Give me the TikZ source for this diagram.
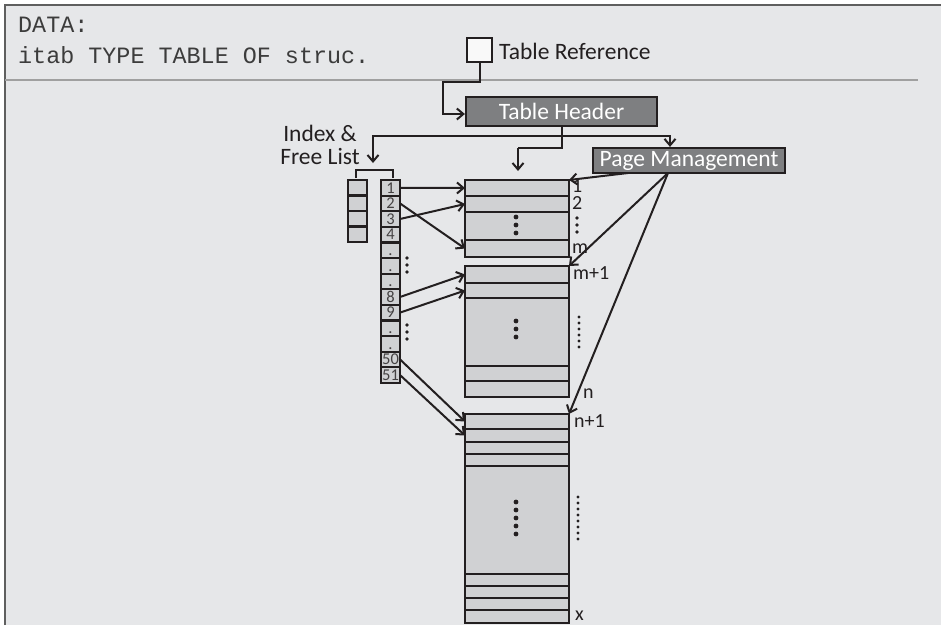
\documentclass[tikz,border=0pt]{standalone}
\usepackage{fontspec}
\setmainfont{Carlito}
\setmonofont{Liberation Mono}
\usetikzlibrary{arrows.meta,calc}
\definecolor{ink}{RGB}{35,31,32}
\definecolor{bg}{RGB}{230,231,233}
\definecolor{cellfill}{RGB}{208,209,211}
\definecolor{darkfill}{RGB}{126,127,129}
\definecolor{framecol}{RGB}{95,95,95}
\definecolor{sepcol}{RGB}{160,160,160}
\definecolor{codecol}{RGB}{60,60,60}
\newcommand{\lblfont}{\fontsize{23.5}{23.5}\selectfont}
\newcommand{\rowfont}{\fontsize{20}{20}\selectfont}
\begin{document}
\begin{tikzpicture}[x=1pt,y=-1pt,
  tip/.tip={Straight Barb[length=6.5pt,width=11pt]},
  line/.style={draw=ink,line width=2pt},
  conn/.style={line,-tip},
  cell/.style={draw=ink,fill=cellfill,line width=2.5pt,anchor=north west,
    minimum width=104pt,inner sep=0pt,outer sep=0pt},
  ibox/.style={draw=ink,fill=cellfill,line width=2.2pt,anchor=north west,
    minimum width=19pt,minimum height=15.6pt,inner sep=0pt,outer sep=0pt,
    font=\fontsize{16.5}{16.5}\selectfont,text height=10.5pt,text depth=0pt,text=ink!85},
  darkbox/.style={draw=ink,fill=darkfill,line width=2.2pt,inner sep=0pt,
    text=white,font=\lblfont},
  rowlbl/.style={anchor=base west,inner sep=0pt,font=\rowfont,text=ink},
  bigdot/.style={fill=ink},
]
\useasboundingbox (0,0) rectangle (941,625);
% background and frame
\fill[white] (0,0) rectangle (941,625);
\fill[bg] (5,5) rectangle (941,625);
\draw[framecol,line width=1.8pt] (5,625) -- (5,5) -- (941,5);
\draw[sepcol,line width=1.6pt] (5,80) -- (918,80);

% code text
\node[anchor=base west,inner sep=0pt,font=\ttfamily\fontsize{23.4}{23.4}\selectfont,text=codecol] (data) at (18,32) {DATA:};
\node[anchor=base west,inner sep=0pt,font=\ttfamily\fontsize{23.4}{23.4}\selectfont,text=codecol] (itab) at (18,63) {itab TYPE TABLE OF struc.};

% table reference
\node[draw=ink,fill=white!95!gray,line width=2.2pt,minimum width=25pt,minimum height=24pt,inner sep=0pt] (tref) at (479.5,50) {};
\node[anchor=base west,inner sep=0pt,font=\lblfont,text=ink] (treft) at (499,59) {Table Reference};

% table header & page management
\node[darkbox,minimum width=191pt,minimum height=29pt] (th) at (561.5,111.5) {Table Header};
\node[darkbox,minimum width=192pt,minimum height=25pt] (pm) at (689,160.5) {Page Management};

\draw[conn] (tref.south) |- (443,82) |- ($(th.west)+(0,2.5)$);

% header connectors
\coordinate (bl) at (373,136);
\coordinate (br) at (670,136);
\coordinate (idxtip) at (373,163);
\coordinate (j1) at (561.5,148);
\coordinate (j2) at (518,148);
\coordinate (p1tip) at (518,171);
\draw[line,tip-tip] (idxtip) -- (bl) -- (br) -- (br |- pm.north);
\draw[line] (th.south) -- (j1) -- (j2);
\draw[conn] (j2) -- (p1tip);

% index & free list label and brace
\node[align=center,inner sep=0pt,font=\lblfont,text=ink] (ifl) at (320,145) {Index \&\\Free List};
\draw[line] (356,178) -- (356,170) -- (393,170) -- (393,178);

% free list column
\foreach \i in {0,1,2,3}
  \node[ibox] (f\i) at (348,{180+15.5*\i}) {};

% index column
\foreach \lab [count=\i from 0] in {1,2,3,4,.,.,.,8,9,.,.,50,51}
  \node[ibox] (i\i) at (381,{180+15.6*\i}) {\lab};

% index dots
\foreach \y in {258,265,272,325,332,339}
  \fill[bigdot] (407,\y) circle (1.8pt);

% page 1
\node[cell,minimum height=16pt] (p1a) at (465,180) {};
\node[cell,minimum height=16pt] (p1b) at (465,196) {};
\node[cell,minimum height=28pt] (p1c) at (465,212) {};
\node[cell,minimum height=17pt] (p1d) at (465,240) {};
% page 2
\node[cell,minimum height=17pt] (p2a) at (465,266) {};
\node[cell,minimum height=15pt] (p2b) at (465,283) {};
\node[cell,minimum height=68pt] (p2c) at (465,298) {};
\node[cell,minimum height=15pt] (p2d) at (465,366) {};
\node[cell,minimum height=16pt] (p2e) at (465,381) {};
% page 3
\node[cell,minimum height=15pt] (p3a) at (465,414) {};
\node[cell,minimum height=13pt] (p3b) at (465,429) {};
\node[cell,minimum height=12pt] (p3c) at (465,442) {};
\node[cell,minimum height=12pt] (p3d) at (465,454) {};
\node[cell,minimum height=108pt] (p3e) at (465,466) {};
\node[cell,minimum height=12pt] (p3f) at (465,574) {};
\node[cell,minimum height=12pt] (p3g) at (465,586) {};
\node[cell,minimum height=12pt] (p3h) at (465,598) {};
\node[cell,minimum height=13pt] (p3i) at (465,610) {};

% centre dots
\foreach \y in {217,225,233} \fill[bigdot] (516,\y) circle (2.4pt);
\foreach \y in {321,329,337} \fill[bigdot] (516,\y) circle (2.4pt);
\foreach \y in {502,510,518,526,534} \fill[bigdot] (516,\y) circle (2.4pt);

% right labels
\node[rowlbl] (l1) at (572,192) {1};
\node[rowlbl] (l2) at (572,209) {2};
\foreach \y in {218,225,232} \fill[bigdot] (577,\y) circle (1.9pt);
\node[rowlbl] (lm) at (572,253) {m};
\node[rowlbl] (lm1) at (573,279) {m+1};
\foreach \y in {317,323,329,335,341,347} \fill[bigdot] (579,\y) circle (1.7pt);
\node[rowlbl] (ln) at (583,398) {n};
\node[rowlbl] (ln1) at (574,427) {n+1};
\foreach \y in {497,503,509,515,521,527,533,539} \fill[bigdot] (578,\y) circle (1.7pt);
\node[rowlbl] (lx) at (575,620) {x};

% index arrows
\draw[conn] (i0.east) -- (p1a.west);
\draw[conn] (i1.east) -- (p1d.west);
\draw[conn] (i2.east) -- (p1b.west);
\draw[conn] (i7.east) -- (p2a.west);
\draw[conn] (i8.east) -- (p2b.west);
\draw[conn] (i11.east) -- (p3a.west);
\draw[conn] (i12.east) -- (p3b.west);

% page management arrows
\coordinate (pmA) at (628,173);
\coordinate (pmB) at (668,173);
\draw[conn] (pmA) -- (p1a.north east);
\draw[conn] (pmB) -- (p2a.north east);
\draw[conn] (pmB) -- (p3a.north east);
\end{tikzpicture}
\end{document}
